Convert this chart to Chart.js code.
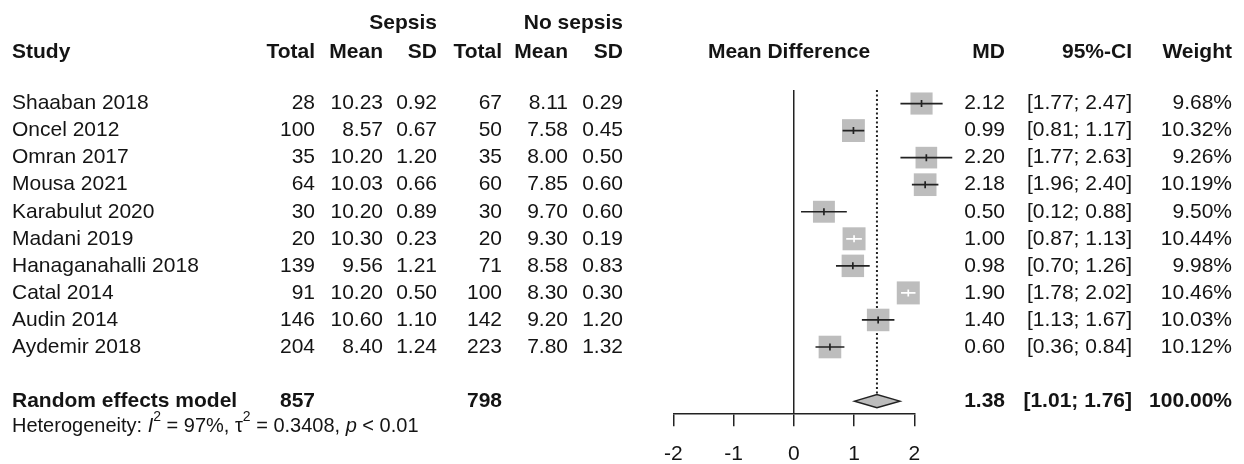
<!DOCTYPE html>
<html>
<head>
<meta charset="utf-8">
<script src="https://cdn.jsdelivr.net/npm/chart.js@4/dist/chart.umd.min.js"></script>
<style>
  body { margin: 0; background: #fff; }
  #wrap { width: 1244px; height: 464px; }
</style>
</head>
<body>
<div id="wrap"><canvas id="forest" width="1244" height="464"></canvas></div>
<script>
const studies = ['Shaaban 2018', 'Oncel 2012', 'Omran 2017', 'Mousa 2021', 'Karabulut 2020',
    'Madani 2019', 'Hanaganahalli 2018', 'Catal 2014', 'Audin 2014', 'Aydemir 2018'];
const sepsisTotal = [28, 100, 35, 64, 30, 20, 139, 91, 146, 204];
const sepsisMean = [10.23, 8.57, 10.20, 10.03, 10.20, 10.30, 9.56, 10.20, 10.60, 8.40];
const sepsisSD = [0.92, 0.67, 1.20, 0.66, 0.89, 0.23, 1.21, 0.50, 1.10, 1.24];
const noSepsisTotal = [67, 50, 35, 60, 30, 20, 71, 100, 142, 223];
const noSepsisMean = [8.11, 7.58, 8.00, 7.85, 9.70, 9.30, 8.58, 8.30, 9.20, 7.80];
const noSepsisSD = [0.29, 0.45, 0.50, 0.60, 0.60, 0.19, 0.83, 0.30, 1.20, 1.32];
const meanDiff = [2.12, 0.99, 2.20, 2.18, 0.50, 1.00, 0.98, 1.90, 1.40, 0.60];
const ciLower = [1.77, 0.81, 1.77, 1.96, 0.12, 0.87, 0.70, 1.78, 1.13, 0.36];
const ciUpper = [2.47, 1.17, 2.63, 2.40, 0.88, 1.13, 1.26, 2.02, 1.67, 0.84];
const weights = [9.68, 10.32, 9.26, 10.19, 9.50, 10.44, 9.98, 10.46, 10.03, 10.12];

const pooledMD = 1.38;
const pooledLower = 1.01;
const pooledUpper = 1.76;
const pooledWeight = 100.00;
const pooledTotals = [857, 798];
const xTicks = [-2, -1, 0, 1, 2];

const fontFamily = '"Liberation Sans", Arial, Helvetica, sans-serif';
const textColor = '#141414';
const lineColor = '#222222';
const boxColor = '#bdbdbd';
const fontSize = 21;

const pooledRow = studies.length + 1;
const maxWeight = Math.max(...weights);
const boxSide = (w) => 23 * Math.sqrt(w / maxWeight);

// right edges of the text columns, px
const colTotal1 = 315, colMean1 = 383, colSD1 = 437;
const colTotal2 = 502, colMean2 = 568, colSD2 = 623;
const colMD = 1005, colCI = 1132, colWeight = 1232;

function txt(ctx, s, x, y, align, bold, size) {
    ctx.font = (bold ? 'bold ' : '') + (size || fontSize) + 'px ' + fontFamily;
    ctx.textAlign = align;
    ctx.textBaseline = 'middle';
    ctx.fillStyle = textColor;
    ctx.fillText(s, x, y);
}

const forestPlugin = {
    id: 'forest',
    afterDatasetsDraw(chart) {
        const ctx = chart.ctx;
        const xs = chart.scales.x;
        const ys = chart.scales.y;
        ctx.save();
        ctx.lineWidth = 1.7;

        // confidence intervals and point marks
        for (let i = 0; i < studies.length; i++) {
            const y = ys.getPixelForValue(i);
            const x1 = xs.getPixelForValue(ciLower[i]);
            const x2 = xs.getPixelForValue(ciUpper[i]);
            const xm = xs.getPixelForValue(meanDiff[i]);
            const inside = (x2 - x1) < boxSide(weights[i]) * 0.8;
            ctx.strokeStyle = inside ? '#ffffff' : lineColor;
            ctx.beginPath();
            ctx.moveTo(x1, y);
            ctx.lineTo(x2, y);
            ctx.moveTo(xm, y - 3.5);
            ctx.lineTo(xm, y + 3.5);
            ctx.stroke();
        }

        // pooled diamond
        const yp = ys.getPixelForValue(pooledRow);
        ctx.beginPath();
        ctx.moveTo(xs.getPixelForValue(pooledLower), yp);
        ctx.lineTo(xs.getPixelForValue(pooledMD), yp - 6.5);
        ctx.lineTo(xs.getPixelForValue(pooledUpper), yp);
        ctx.lineTo(xs.getPixelForValue(pooledMD), yp + 6.5);
        ctx.closePath();
        ctx.fillStyle = boxColor;
        ctx.fill();
        ctx.lineWidth = 1.5;
        ctx.strokeStyle = lineColor;
        ctx.stroke();
        ctx.restore();
    },
    afterDraw(chart) {
        const ctx = chart.ctx;
        const ys = chart.scales.y;
        ctx.save();

        // headers
        txt(ctx, 'Sepsis', colSD1, 23, 'right', true);
        txt(ctx, 'No sepsis', colSD2, 23, 'right', true);
        const hy = 52;
        txt(ctx, 'Study', 12, hy, 'left', true);
        txt(ctx, 'Total', colTotal1, hy, 'right', true);
        txt(ctx, 'Mean', colMean1, hy, 'right', true);
        txt(ctx, 'SD', colSD1, hy, 'right', true);
        txt(ctx, 'Total', colTotal2, hy, 'right', true);
        txt(ctx, 'Mean', colMean2, hy, 'right', true);
        txt(ctx, 'SD', colSD2, hy, 'right', true);
        txt(ctx, 'Mean Difference', 789, hy, 'center', true);
        txt(ctx, 'MD', colMD, hy, 'right', true);
        txt(ctx, '95%-CI', colCI, hy, 'right', true);
        txt(ctx, 'Weight', colWeight, hy, 'right', true);

        // study rows
        for (let i = 0; i < studies.length; i++) {
            const y = ys.getPixelForValue(i);
            txt(ctx, studies[i], 12, y, 'left', false);
            txt(ctx, String(sepsisTotal[i]), colTotal1, y, 'right', false);
            txt(ctx, sepsisMean[i].toFixed(2), colMean1, y, 'right', false);
            txt(ctx, sepsisSD[i].toFixed(2), colSD1, y, 'right', false);
            txt(ctx, String(noSepsisTotal[i]), colTotal2, y, 'right', false);
            txt(ctx, noSepsisMean[i].toFixed(2), colMean2, y, 'right', false);
            txt(ctx, noSepsisSD[i].toFixed(2), colSD2, y, 'right', false);
            txt(ctx, meanDiff[i].toFixed(2), colMD, y, 'right', false);
            txt(ctx, '[' + ciLower[i].toFixed(2) + '; ' + ciUpper[i].toFixed(2) + ']', colCI, y, 'right', false);
            txt(ctx, weights[i].toFixed(2) + '%', colWeight, y, 'right', false);
        }

        // pooled row
        const yp = ys.getPixelForValue(pooledRow);
        txt(ctx, 'Random effects model', 12, yp, 'left', true);
        txt(ctx, String(pooledTotals[0]), colTotal1, yp, 'right', true);
        txt(ctx, String(pooledTotals[1]), colTotal2, yp, 'right', true);
        txt(ctx, pooledMD.toFixed(2), colMD, yp, 'right', true);
        txt(ctx, '[' + pooledLower.toFixed(2) + '; ' + pooledUpper.toFixed(2) + ']', colCI, yp, 'right', true);
        txt(ctx, pooledWeight.toFixed(2) + '%', colWeight, yp, 'right', true);

        // heterogeneity line, drawn piece by piece
        const hetY = yp + 25;
        let x = 12;
        const parts = [
            ['Heterogeneity: ', ''], ['I', 'italic '], ['2', 'sup'], [' = 97%, \u03C4', ''],
            ['2', 'sup'], [' = 0.3408, ', ''], ['p', 'italic '], [' < 0.01', '']
        ];
        ctx.textAlign = 'left';
        ctx.textBaseline = 'middle';
        ctx.fillStyle = textColor;
        for (const [s, style] of parts) {
            if (style === 'sup') {
                ctx.font = '14px ' + fontFamily;
                ctx.fillText(s, x, hetY - 9);
            } else {
                ctx.font = style + '20px ' + fontFamily;
                ctx.fillText(s, x, hetY);
            }
            x += ctx.measureText(s).width;
        }
        ctx.restore();
    }
};

new Chart(document.getElementById('forest'), {
    type: 'scatter',
    data: {
        datasets: [
            {
                label: 'Studies',
                data: meanDiff.map((v, i) => ({ x: v, y: i })),
                pointStyle: 'rect',
                pointRadius: weights.map((w) => boxSide(w) / (2 * Math.SQRT1_2)),
                pointBackgroundColor: boxColor,
                pointBorderWidth: 0,
                clip: false
            },
            {
                type: 'line',
                label: 'Pooled',
                data: [{ x: pooledMD, y: -0.5 }, { x: pooledMD, y: pooledRow - 0.24 }],
                borderColor: lineColor,
                borderWidth: 2,
                borderDash: [2, 2.5],
                pointRadius: 0,
                clip: false
            }
        ]
    },
    options: {
        responsive: false,
        animation: false,
        events: [],
        layout: { padding: { left: 673.3, right: 329.7, top: 90, bottom: 0 } },
        plugins: { legend: { display: false }, tooltip: { enabled: false } },
        scales: {
            x: {
                type: 'linear',
                min: xTicks[0],
                max: xTicks[xTicks.length - 1],
                afterBuildTicks: (scale) => { scale.ticks = xTicks.map((v) => ({ value: v })); },
                ticks: { font: { family: fontFamily, size: fontSize }, color: textColor, padding: 15 },
                grid: {
                    color: (c) => (c.tick && c.tick.value === 0 ? lineColor : 'rgba(0,0,0,0)'),
                    lineWidth: 1.5,
                    tickColor: lineColor,
                    tickLength: 13,
                    drawOnChartArea: true
                },
                border: { display: true, color: lineColor, width: 1.5 },
                afterFit: (scale) => { scale.height = 50.7; }
            },
            y: { type: 'linear', display: false, reverse: true, min: -0.5, max: 11.45 }
        }
    },
    plugins: [forestPlugin]
});
</script>
</body>
</html>
